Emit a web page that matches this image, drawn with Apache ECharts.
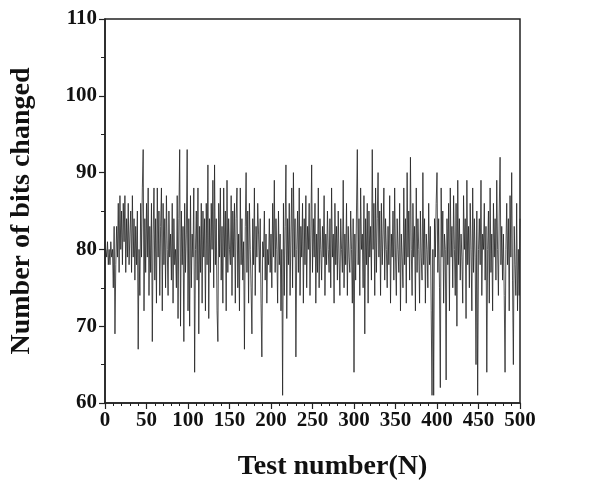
<!DOCTYPE html>
<html>
<head>
<meta charset="utf-8">
<script src="https://cdn.jsdelivr.net/npm/echarts@6/dist/echarts.min.js"></script>
<style>html,body{margin:0;padding:0;background:#fff}#c{width:594px;height:482px}</style>
</head>
<body>
<div id="c"></div>
<script>
const xTicks = [0, 50, 100, 150, 200, 250, 300, 350, 400, 450, 500];
const yTicks = [60, 70, 80, 90, 100, 110];
const bitsChanged = [
80,79,81,78,80,78,81,79,80,75,
83,69,78,83,79,86,77,87,80,85,
78,86,81,87,77,84,79,86,78,82,
85,77,87,79,84,76,83,78,85,67,
80,74,86,79,88,93,72,84,77,86,
79,88,74,83,77,86,68,82,88,76,
84,73,88,79,85,74,83,88,72,86,
78,84,75,87,80,74,85,79,82,76,
86,73,84,78,80,75,87,71,84,93,
70,85,78,83,68,86,77,82,93,72,
84,70,87,75,82,79,88,64,80,85,
76,88,69,83,77,86,73,85,79,84,
72,86,78,91,71,84,77,86,80,89,
75,91,78,84,72,68,86,79,88,76,
83,73,88,79,85,72,89,77,84,80,
78,87,74,85,79,86,73,84,88,75,
82,72,88,78,84,76,81,67,83,90,
77,85,73,86,80,75,69,84,78,88,
74,83,79,86,82,77,84,73,66,81,
79,85,76,82,73,80,78,84,77,82,
75,86,79,89,77,84,80,73,85,78,
82,72,80,61,86,74,83,91,71,84,
78,86,74,82,88,75,90,79,84,66,
80,85,77,88,74,83,79,86,73,84,
78,87,75,83,80,86,74,82,91,77,
84,79,86,73,82,77,88,75,84,80,
76,83,79,87,74,82,78,85,80,77,
84,75,88,79,82,73,86,78,83,76,
85,79,74,84,80,77,89,75,82,78,
86,74,83,79,77,85,80,73,84,64,
82,76,85,93,78,84,74,88,80,82,
75,87,69,84,78,86,73,85,79,83,
76,93,80,86,74,88,77,84,90,79,
85,74,86,78,82,88,76,84,80,75,
83,78,87,73,82,79,85,76,88,79,
74,84,80,77,86,72,82,79,75,88,
78,84,73,90,79,85,76,92,80,74,
86,79,83,72,88,77,84,80,73,85,
79,76,90,78,84,73,82,80,75,86,
78,83,72,61,80,61,84,79,86,90,
77,84,75,62,88,79,85,73,82,80,
63,84,78,86,72,88,79,83,75,87,
80,74,86,70,89,78,84,76,82,79,
73,87,80,84,71,89,78,83,75,86,
80,72,88,77,84,79,65,85,61,80,
84,78,89,74,82,80,86,76,83,64,
80,85,73,88,77,82,72,86,79,84,
76,89,80,74,85,92,78,83,76,82,
74,64,80,86,78,84,72,87,79,90,
76,65,83,78,74,86,72,80,74,84
];
const testNumbers = bitsChanged.map((_, i) => i + 1);

const font = '"Liberation Serif", "Times New Roman", serif';
const chart = echarts.init(document.getElementById('c'), null, {renderer: 'canvas'});
chart.setOption({
  animation: false,
  backgroundColor: '#fff',
  grid: {left: 105, right: 74, top: 19, bottom: 79, outerBoundsMode: 'none', containLabel: false, show: true, borderColor: '#222', borderWidth: 1.5, backgroundColor: 'transparent'},
  xAxis: {
    type: 'value',
    min: xTicks[0], max: xTicks[xTicks.length - 1], interval: 50,
    name: 'Test number(N)', nameLocation: 'middle', nameGap: 50,
    nameTextStyle: {fontFamily: font, fontWeight: 'bold', fontSize: 28, color: '#111', padding: [0, 0, 0, 40]},
    axisLine: {show: true, lineStyle: {color: '#222', width: 1.5}},
    axisTick: {show: true, inside: false, length: 6, lineStyle: {color: '#222', width: 1.2}},
    minorTick: {show: true, splitNumber: 5, length: 3, lineStyle: {color: '#222', width: 1}},
    axisLabel: {fontFamily: font, fontWeight: 'bold', fontSize: 21, color: '#111', margin: 7},
    splitLine: {show: false}
  },
  yAxis: {
    type: 'value',
    min: yTicks[0], max: yTicks[yTicks.length - 1], interval: 10,
    name: 'Number of bits changed', nameLocation: 'middle', nameGap: 69,
    nameTextStyle: {fontFamily: font, fontWeight: 'bold', fontSize: 28, color: '#111'},
    axisLine: {show: true, lineStyle: {color: '#222', width: 1.5}},
    axisTick: {show: true, inside: false, length: 6, lineStyle: {color: '#222', width: 1.2}},
    minorTick: {show: true, splitNumber: 2, length: 4, lineStyle: {color: '#222', width: 1}},
    axisLabel: {fontFamily: font, fontWeight: 'bold', fontSize: 21, color: '#111', margin: 8},
    splitLine: {show: false}
  },
  series: [{
    type: 'line',
    data: testNumbers.map((n, i) => [n, bitsChanged[i]]),
    showSymbol: false,
    symbol: 'none',
    lineStyle: {color: '#222', width: 0.8},
    silent: true
  }]
});
</script>
</body>
</html>
